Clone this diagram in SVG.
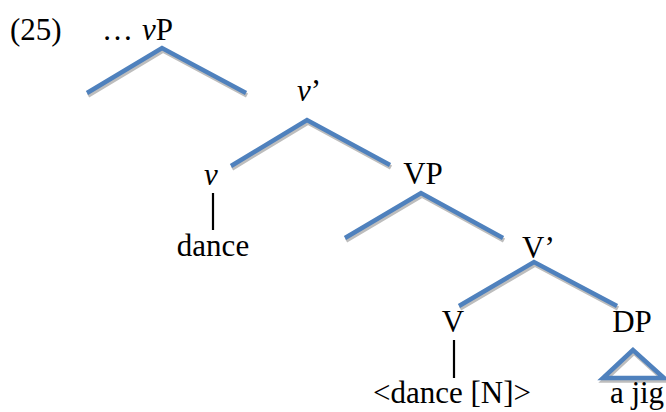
<svg xmlns="http://www.w3.org/2000/svg" width="666" height="412" viewBox="0 0 666 412">
<style>
text{font-family:"Liberation Serif","Times New Roman",serif;font-size:31px;fill:#000}
.it{font-style:italic}
.b{fill:none;stroke:#4F81BD;stroke-width:4.5;stroke-linejoin:miter}
.s{fill:none;stroke:#BDBDBD;stroke-width:4.5;stroke-linejoin:miter}
.k{stroke:#000;stroke-width:2.2}
</style>
<rect width="666" height="412" fill="#fff"/>
<g id="connectors">
<g transform="translate(1,2.5)">
<polyline class="s" points="87,93 162,48 246,93"/>
<polyline class="s" points="231,166 307,120 390,165"/>
<polyline class="s" points="345,238 421,193 503,238"/>
<polyline class="s" points="459,306 534,262 617,306"/>
<polygon class="s" points="633,350 603,378 664,378"/>
</g>
<polyline class="b" points="87,93 162,48 246,93"/>
<polyline class="b" points="231,166 307,120 390,165"/>
<polyline class="b" points="345,238 421,193 503,238"/>
<polyline class="b" points="459,306 534,262 617,306"/>
<polygon class="b" points="633,350 603,378 664,378"/>
<line class="k" x1="213" y1="193" x2="213" y2="230"/>
<line class="k" x1="454" y1="340" x2="454" y2="378"/>
</g>
<g id="label"><text x="10" y="40">(25)</text></g>
<g id="vP"><text x="102" y="40">…<tspan x="142" class="it">v</tspan>P</text></g>
<g id="vbar"><text x="297" y="101"><tspan class="it">v</tspan>’</text></g>
<g id="v"><text x="204" y="185" class="it">v</text></g>
<g id="dance"><text x="213" y="256" text-anchor="middle">dance</text></g>
<g id="VP"><text x="423" y="184" text-anchor="middle">VP</text></g>
<g id="Vbar"><text x="522" y="258">V’</text></g>
<g id="V"><text x="453" y="332" text-anchor="middle">V</text></g>
<g id="DP"><text x="632" y="332" text-anchor="middle">DP</text></g>
<g id="danceN"><text x="452" y="403" text-anchor="middle">&lt;dance [N]&gt;</text></g>
<g id="ajig"><text x="637" y="403" text-anchor="middle">a jig</text></g>
</svg>
